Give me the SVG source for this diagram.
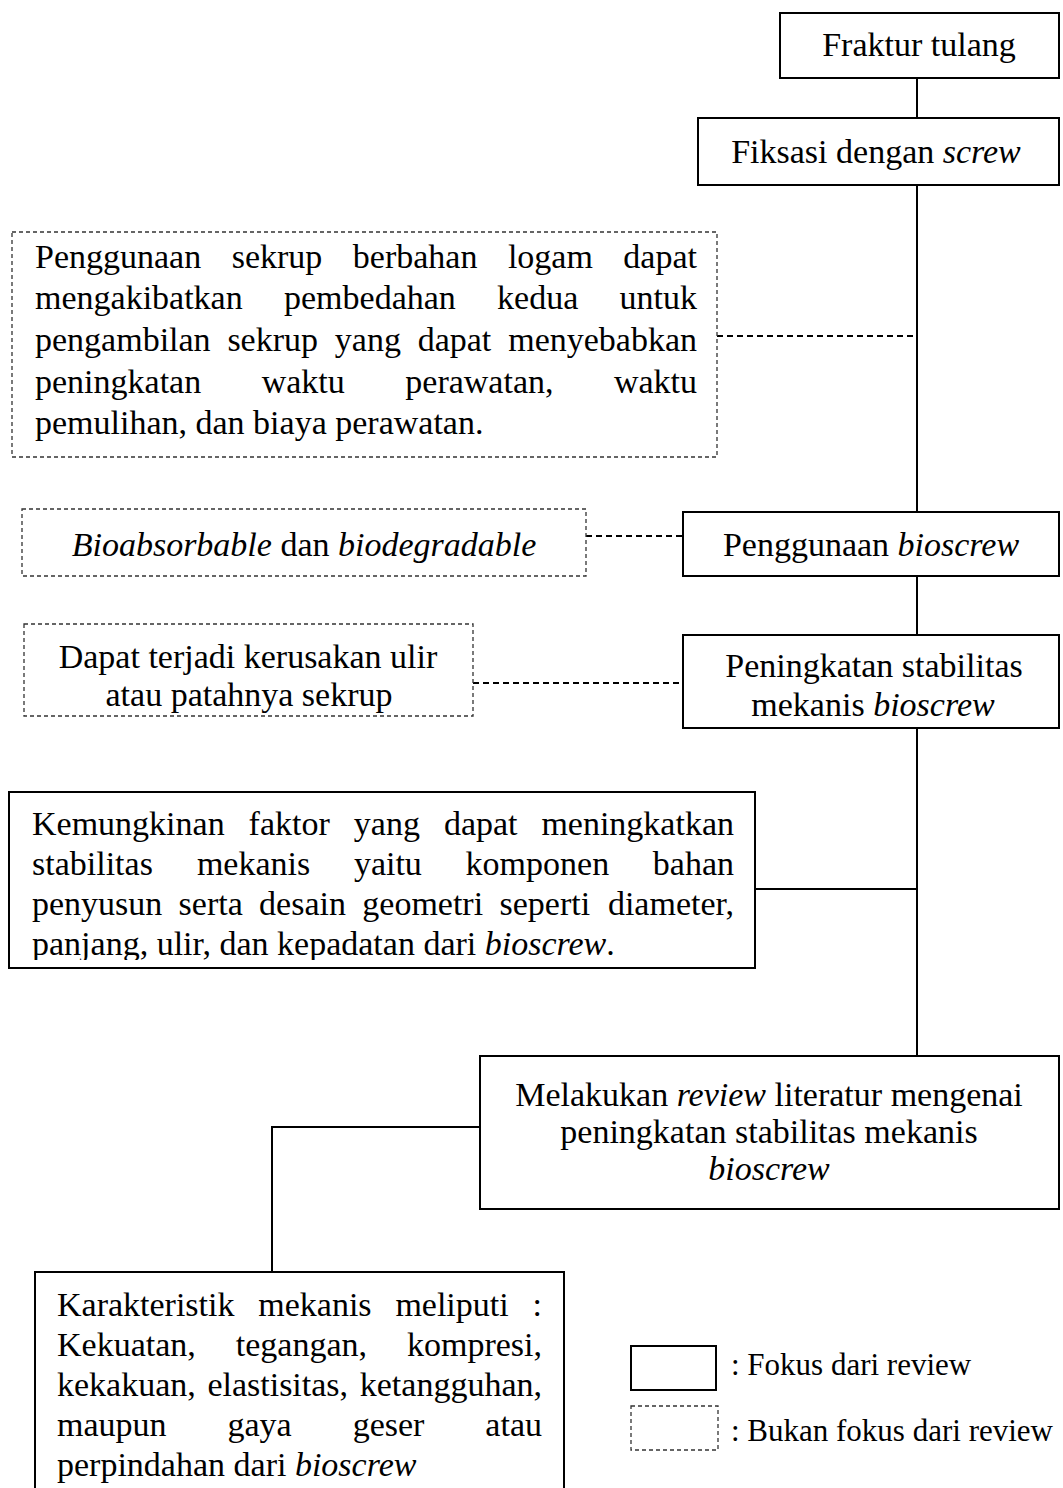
<svg xmlns="http://www.w3.org/2000/svg" width="1063" height="1488" viewBox="0 0 1063 1488">
<style>
text{font-family:"Liberation Serif","Times New Roman",serif;font-size:34px;fill:#000}
.c{text-anchor:middle}
.e{text-anchor:end}
.i{font-style:italic}
.lg{font-size:31px}
.box{fill:#fff;stroke:#000;stroke-width:2}
.dbox{fill:#fff;stroke:#333;stroke-width:1.3;stroke-dasharray:4 3}
.ln{fill:none;stroke:#000;stroke-width:2}
.dl{fill:none;stroke:#000;stroke-width:2;stroke-dasharray:6 4}
</style>
<defs>
<clipPath id="clipK"><rect x="0" y="780" width="760" height="180"/></clipPath>
</defs>
<rect width="1063" height="1488" fill="#fff"/>
<g id="connectors">
<line class="ln" x1="917" y1="78" x2="917" y2="118"/>
<line class="ln" x1="917" y1="185" x2="917" y2="512"/>
<line class="ln" x1="917" y1="576" x2="917" y2="635"/>
<line class="ln" x1="917" y1="728" x2="917" y2="1056"/>
<line class="ln" x1="755" y1="889" x2="917" y2="889"/>
<polyline class="ln" points="480,1127 272,1127 272,1272"/>
<line class="dl" x1="717" y1="336" x2="917" y2="336"/>
<line class="dl" x1="586" y1="536" x2="683" y2="536"/>
<line class="dl" x1="473" y1="683" x2="683" y2="683"/>
</g>
<g id="n-fraktur">
<rect class="box" x="780" y="13" width="279" height="65"/>
<text class="c" x="919" y="56">Fraktur tulang</text>
</g>
<g id="n-fiksasi">
<rect class="box" x="698" y="118" width="361" height="67"/>
<text class="c" x="876" y="163">Fiksasi dengan <tspan class="i">screw</tspan></text>
</g>
<g id="n-logam">
<rect class="dbox" x="12" y="232" width="705" height="225"/>
<text y="268"><tspan x="35">Penggunaan</tspan><tspan x="231.7">sekrup</tspan><tspan x="352.8">berbahan</tspan><tspan x="507.9">logam</tspan></text>
<text class="e" x="697" y="268">dapat</text>
<text y="309"><tspan x="35">mengakibatkan</tspan><tspan x="284">pembedahan</tspan><tspan x="497.1">kedua</tspan></text>
<text class="e" x="697" y="309">untuk</text>
<text y="351"><tspan x="35">pengambilan</tspan><tspan x="227.4">sekrup</tspan><tspan x="334.8">yang</tspan><tspan x="417.7">dapat</tspan></text>
<text class="e" x="697" y="351">menyebabkan</text>
<text y="393"><tspan x="35">peningkatan</tspan><tspan x="261.7">waktu</tspan><tspan x="405.3">perawatan,</tspan></text>
<text class="e" x="697" y="393">waktu</text>
<text x="35" y="434">pemulihan, dan biaya perawatan.</text>
</g>
<g id="n-bioabsorbable">
<rect class="dbox" x="22" y="509" width="564" height="67"/>
<text class="c" x="304" y="556"><tspan class="i">Bioabsorbable</tspan> dan <tspan class="i">biodegradable</tspan></text>
</g>
<g id="n-penggunaan">
<rect class="box" x="683" y="512" width="376" height="64"/>
<text class="c" x="871" y="556">Penggunaan <tspan class="i">bioscrew</tspan></text>
</g>
<g id="n-kerusakan">
<rect class="dbox" x="24" y="624" width="449" height="92"/>
<text class="c" x="248" y="668">Dapat terjadi kerusakan ulir</text>
<text class="c" x="249" y="706">atau patahnya sekrup</text>
</g>
<g id="n-peningkatan">
<rect class="box" x="683" y="635" width="376" height="93"/>
<text class="c" x="874" y="677">Peningkatan stabilitas</text>
<text class="c" x="873" y="716">mekanis <tspan class="i">bioscrew</tspan></text>
</g>
<g id="n-kemungkinan">
<rect class="box" x="9" y="792" width="746" height="176"/>
<g clip-path="url(#clipK)">
<text y="835"><tspan x="32">Kemungkinan</tspan><tspan x="248.6">faktor</tspan><tspan x="353.8">yang</tspan><tspan x="443.9">dapat</tspan></text>
<text class="e" x="734" y="835">meningkatkan</text>
<text y="875"><tspan x="32">stabilitas</tspan><tspan x="196.9">mekanis</tspan><tspan x="353.9">yaitu</tspan><tspan x="465.6">komponen</tspan></text>
<text class="e" x="734" y="875">bahan</text>
<text y="915"><tspan x="32">penyusun</tspan><tspan x="178.6">serta</tspan><tspan x="259.1">desain</tspan><tspan x="362.3">geometri</tspan><tspan x="499.5">seperti</tspan></text>
<text class="e" x="734" y="915">diameter,</text>
<text x="32" y="955">panjang, ulir, dan kepadatan dari <tspan class="i">bioscrew</tspan>.</text>
</g>
</g>
<g id="n-review">
<rect class="box" x="480" y="1056" width="579" height="153"/>
<text class="c" x="769" y="1106">Melakukan <tspan class="i">review</tspan> literatur mengenai</text>
<text class="c" x="769" y="1143">peningkatan stabilitas mekanis</text>
<text class="c" x="769" y="1180"><tspan class="i">bioscrew</tspan></text>
</g>
<g id="n-karakteristik">
<rect class="box" x="35" y="1272" width="529" height="240"/>
<text y="1316"><tspan x="57">Karakteristik</tspan><tspan x="258.3">mekanis</tspan><tspan x="395.4">meliputi</tspan></text>
<text class="e" x="542" y="1316">:</text>
<text y="1356"><tspan x="57">Kekuatan,</tspan><tspan x="235.8">tegangan,</tspan></text>
<text class="e" x="542" y="1356">kompresi,</text>
<text y="1396"><tspan x="57">kekakuan,</tspan><tspan x="207.4">elastisitas,</tspan></text>
<text class="e" x="542" y="1396">ketangguhan,</text>
<text y="1436"><tspan x="57">maupun</tspan><tspan x="227.5">gaya</tspan><tspan x="352.7">geser</tspan></text>
<text class="e" x="542" y="1436">atau</text>
<text x="57" y="1476">perpindahan dari <tspan class="i">bioscrew</tspan></text>
</g>
<g id="legend">
<rect class="box" x="631" y="1346" width="85" height="44" stroke-width="1.5"/>
<text class="lg" x="731" y="1375">: Fokus dari review</text>
<rect class="dbox" x="631" y="1406" width="87" height="44"/>
<text class="lg" x="731" y="1441">: Bukan fokus dari review</text>
</g>
</svg>
